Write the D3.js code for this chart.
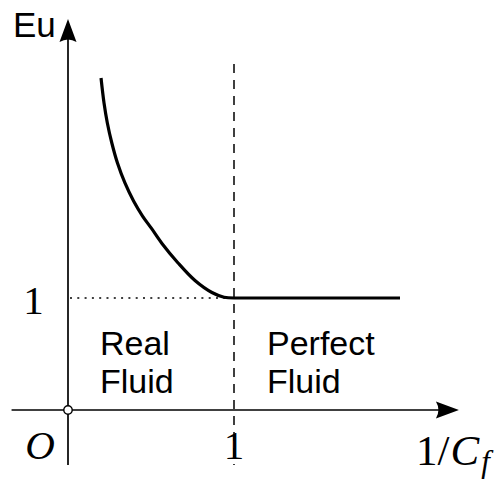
<!DOCTYPE html>
<html>
<head>
<meta charset="utf-8">
<script src="https://cdn.jsdelivr.net/npm/d3@7"></script>
<style>
  html, body { margin: 0; padding: 0; background: #fff; }
  svg { display: block; }
</style>
</head>
<body>
<svg id="chart" width="504" height="479"></svg>
<script>
// Euler number vs. 1/Cf: decaying branch for real fluids, flat at Eu = 1 for perfect fluids
const curveX = [0.199, 0.217, 0.237, 0.264, 0.298, 0.343, 0.395, 0.449, 0.503, 0.566, 0.663, 0.765, 0.867, 0.94, 1.0];
const curveY = [2.964, 2.741, 2.563, 2.384, 2.205, 2.027, 1.866, 1.732, 1.621, 1.487, 1.313, 1.156, 1.049, 1.007, 1.0];
const plateauX = [1.0, 2.0];
const plateauY = [1.0, 1.0];
const xTicks = [1];
const yTicks = [1];
const xTickLabels = ["1"];
const yTickLabels = ["1"];
const regionLabels = [["Real", "Fluid"], ["Perfect", "Fluid"]];
const criticalX = 1;

const svg = d3.select("#chart");
const x = d3.scaleLinear().domain([0, 1]).range([68, 234]);
const y = d3.scaleLinear().domain([0, 1]).range([410, 298]);

const serif = "'Liberation Serif', 'DejaVu Serif', serif";
const sans = "'Liberation Sans', Arial, sans-serif";

// dashed boundary between the two regimes
svg.append("line")
  .attr("x1", x(criticalX)).attr("x2", x(criticalX))
  .attr("y1", y(3.09)).attr("y2", y(-0.49))
  .attr("stroke", "#000").attr("stroke-width", 1.5)
  .attr("stroke-dasharray", "9,7");

// dotted guide at Eu = 1
svg.append("line")
  .attr("x1", x(0.012)).attr("x2", x(criticalX))
  .attr("y1", y(1)).attr("y2", y(1))
  .attr("stroke", "#000").attr("stroke-width", 1.6)
  .attr("stroke-dasharray", "2,5.3");

// axes
svg.append("line")
  .attr("x1", x(-0.34)).attr("x2", x(2.3))
  .attr("y1", y(0)).attr("y2", y(0))
  .attr("stroke", "#000").attr("stroke-width", 1.7);
svg.append("line")
  .attr("x1", x(0)).attr("x2", x(0))
  .attr("y1", y(-0.49)).attr("y2", y(3.35))
  .attr("stroke", "#000").attr("stroke-width", 1.7);

// arrow heads
const xt = [x(2.355), y(0)];
svg.append("path")
  .attr("d", `M${xt[0]},${xt[1]} L${xt[0]-23},${xt[1]-8.5} Q${xt[0]-18},${xt[1]} ${xt[0]-23},${xt[1]+8.5} Z`)
  .attr("fill", "#000");
const yt = [x(0), y(3.49)];
svg.append("path")
  .attr("d", `M${yt[0]},${yt[1]} L${yt[0]-8.5},${yt[1]+23} Q${yt[0]},${yt[1]+18} ${yt[0]+8.5},${yt[1]+23} Z`)
  .attr("fill", "#000");

// decaying branch (real fluid) and plateau (perfect fluid)
const line = d3.line().x(d => x(d[0])).y(d => y(d[1]));
const branch = curveX.map((v, i) => [v, curveY[i]]);
const plateau = plateauX.map((v, i) => [v, plateauY[i]]);
const curvePath = line.curve(d3.curveCatmullRom.alpha(0.5))(branch) + line.curve(d3.curveLinear)(plateau).replace(/^M/, "L");
svg.append("path")
  .attr("d", curvePath)
  .attr("fill", "none")
  .attr("stroke", "#000")
  .attr("stroke-width", 3.2)
  .attr("stroke-linejoin", "round");

// origin marker
svg.append("circle")
  .attr("cx", x(0)).attr("cy", y(0)).attr("r", 4.2)
  .attr("fill", "#fff").attr("stroke", "#000").attr("stroke-width", 1.4);

// tick labels
svg.selectAll("text.xt").data(xTicks).enter().append("text")
  .attr("class", "xt")
  .attr("x", d => x(d)).attr("y", 459)
  .attr("text-anchor", "middle")
  .attr("font-family", serif).attr("font-size", 41)
  .text((d, i) => xTickLabels[i]);
svg.selectAll("text.yt").data(yTicks).enter().append("text")
  .attr("class", "yt")
  .attr("x", 33.5).attr("y", d => y(d) + 16)
  .attr("text-anchor", "middle")
  .attr("font-family", serif).attr("font-size", 41)
  .text((d, i) => yTickLabels[i]);

// origin label
svg.append("text")
  .attr("x", 40).attr("y", 459)
  .attr("text-anchor", "middle")
  .attr("font-family", serif).attr("font-style", "italic").attr("font-size", 41)
  .text("O");

// axis titles
svg.append("text")
  .attr("x", 13).attr("y", 37)
  .attr("font-family", sans).attr("font-size", 35)
  .text("Eu");

const xl = svg.append("text")
  .attr("x", 416).attr("y", 465)
  .attr("font-family", serif).attr("font-size", 43);
xl.append("tspan").text("1/");
xl.append("tspan").attr("font-style", "italic").attr("dx", 1).text("C");
xl.append("tspan").attr("font-style", "italic").attr("font-size", 31).attr("dx", 2).attr("dy", 7).text("f");

// region labels
const regionX = [100, 267];
regionLabels.forEach((lines, k) => {
  lines.forEach((s, j) => {
    svg.append("text")
      .attr("x", regionX[k]).attr("y", 355 + j * 38)
      .attr("font-family", sans).attr("font-size", 34)
      .text(s);
  });
});
</script>
</body>
</html>
